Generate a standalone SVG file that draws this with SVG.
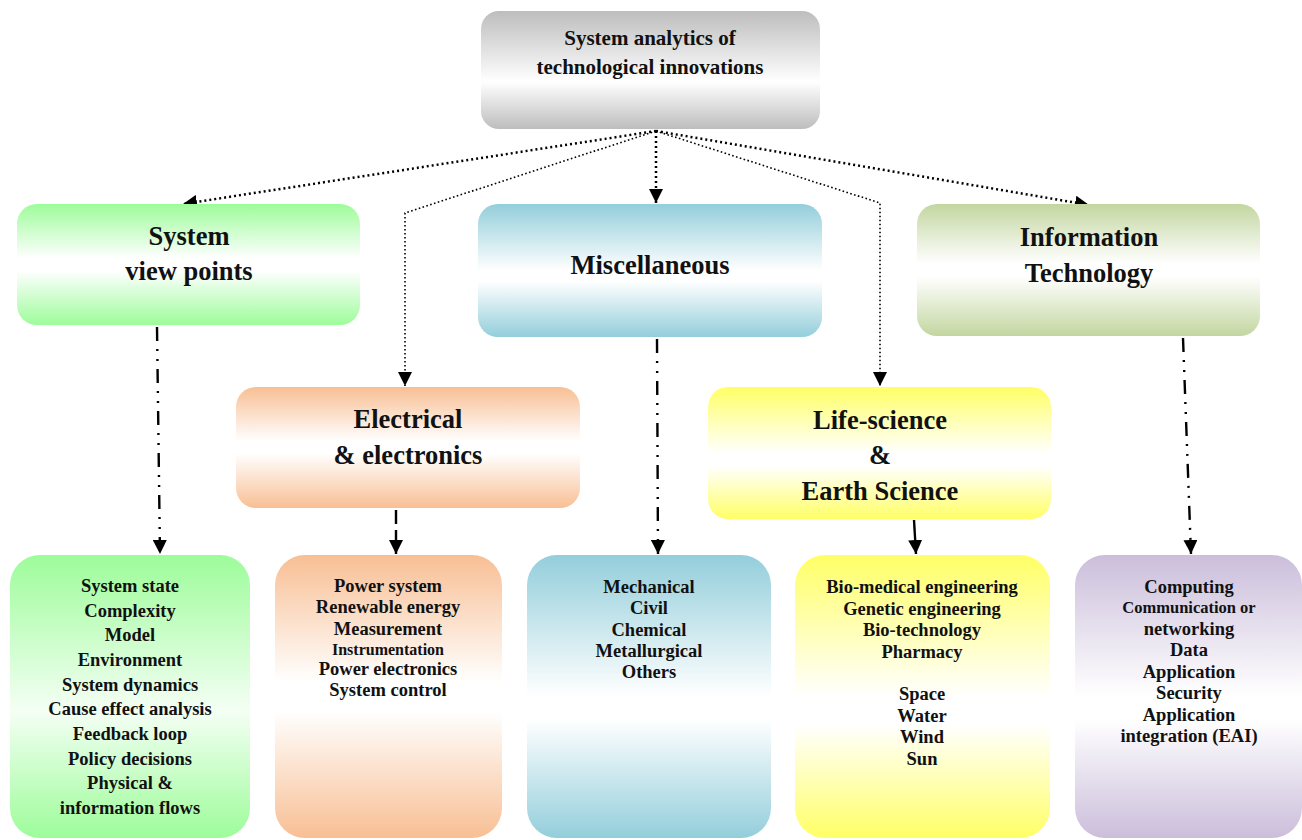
<svg xmlns="http://www.w3.org/2000/svg" width="1302" height="840" viewBox="0 0 1302 840">
<defs>
<linearGradient id="gGray" x1="0" y1="0" x2="0" y2="1"><stop offset="0" stop-color="#bdbdbd"/><stop offset="0.6" stop-color="#ffffff"/><stop offset="1" stop-color="#bdbdbd"/></linearGradient>
<linearGradient id="gGreen" x1="0" y1="0" x2="0" y2="1"><stop offset="0" stop-color="#9dfc9a"/><stop offset="0.45" stop-color="#ffffff"/><stop offset="0.55" stop-color="#ffffff"/><stop offset="1" stop-color="#9dfc9a"/></linearGradient>
<linearGradient id="gBlue" x1="0" y1="0" x2="0" y2="1"><stop offset="0" stop-color="#93cedb"/><stop offset="0.5" stop-color="#ffffff"/><stop offset="0.58" stop-color="#ffffff"/><stop offset="1" stop-color="#93cedb"/></linearGradient>
<linearGradient id="gOlive" x1="0" y1="0" x2="0" y2="1"><stop offset="0" stop-color="#c3d6a0"/><stop offset="0.45" stop-color="#ffffff"/><stop offset="0.55" stop-color="#ffffff"/><stop offset="1" stop-color="#c3d6a0"/></linearGradient>
<linearGradient id="gOrange" x1="0" y1="0" x2="0" y2="1"><stop offset="0" stop-color="#f8bf94"/><stop offset="0.45" stop-color="#ffffff"/><stop offset="0.55" stop-color="#ffffff"/><stop offset="1" stop-color="#f8bf94"/></linearGradient>
<linearGradient id="gYellow" x1="0" y1="0" x2="0" y2="1"><stop offset="0" stop-color="#ffff66"/><stop offset="0.5" stop-color="#ffffff"/><stop offset="0.6" stop-color="#ffffff"/><stop offset="1" stop-color="#ffff66"/></linearGradient>
<linearGradient id="gPurple" x1="0" y1="0" x2="0" y2="1"><stop offset="0" stop-color="#cbbedb"/><stop offset="0.5" stop-color="#ffffff"/><stop offset="0.58" stop-color="#ffffff"/><stop offset="1" stop-color="#cbbedb"/></linearGradient>
<linearGradient id="gGreen2" x1="0" y1="0" x2="0" y2="1"><stop offset="0" stop-color="#9dfc9a"/><stop offset="0.55" stop-color="#f4fff4"/><stop offset="1" stop-color="#9dfc9a"/></linearGradient>
<marker id="arr" viewBox="0 0 10 10" refX="10" refY="5" markerWidth="14" markerHeight="14" markerUnits="userSpaceOnUse" orient="auto"><path d="M0,0 L10,5 L0,10 z" fill="#000"/></marker>
<style>
text{font-family:"Liberation Serif","Times New Roman",serif;font-weight:bold;fill:#111;text-anchor:middle}
.t0{font-size:21px}
.t1{font-size:26.5px}
.t2{font-size:18.5px}
.ts{font-size:16px}
.tm{font-size:16.5px}
.dotA{fill:none;stroke:#000;stroke-width:2.5;stroke-dasharray:2 3}
.dotB{fill:none;stroke:#000;stroke-width:1.6;stroke-dasharray:1.6 2.4}
.dd{fill:none;stroke:#000;stroke-width:2.4;stroke-dasharray:14 8 2 8 2 8}
.dash{fill:none;stroke:#000;stroke-width:2.4;stroke-dasharray:14 6}
.sol{fill:none;stroke:#000;stroke-width:2.4}
</style>
</defs>
<g id="connectors">
<path class="dotA" d="M656,131 L183,204" marker-end="url(#arr)"/>
<path class="dotB" d="M656,131 L405,213 L405,386" marker-end="url(#arr)"/>
<path class="dotA" d="M656,131 L656,203" marker-end="url(#arr)"/>
<path class="dotB" d="M656,131 L880,203 L880,386" marker-end="url(#arr)"/>
<path class="dotA" d="M656,131 L1089,205" marker-end="url(#arr)"/>
<path class="dd" d="M157,327 L160,554" marker-end="url(#arr)"/>
<path class="dash" d="M396,510 L396,554" marker-end="url(#arr)"/>
<path class="dd" d="M657,339 L658,554" marker-end="url(#arr)"/>
<path class="sol" d="M914,520 L916,554" marker-end="url(#arr)"/>
<path class="dd" d="M1183,338 L1191,554" marker-end="url(#arr)"/>
</g>
<g id="root">
<rect x="481" y="11" width="339" height="118" rx="18" fill="url(#gGray)"/>
<text class="t0" x="650" y="45">System analytics of</text>
<text class="t0" x="650" y="74">technological innovations</text>
</g>
<g id="systemViewPoints">
<rect x="17" y="204" width="343" height="121" rx="20" fill="url(#gGreen)"/>
<text class="t1" x="189" y="245">System</text>
<text class="t1" x="189" y="280">view points</text>
</g>
<g id="miscellaneous">
<rect x="478" y="204" width="344" height="133" rx="20" fill="url(#gBlue)"/>
<text class="t1" x="650" y="274">Miscellaneous</text>
</g>
<g id="informationTechnology">
<rect x="917" y="204" width="343" height="132" rx="20" fill="url(#gOlive)"/>
<text class="t1" x="1089" y="246">Information</text>
<text class="t1" x="1089" y="282">Technology</text>
</g>
<g id="electrical">
<rect x="236" y="387" width="344" height="121" rx="20" fill="url(#gOrange)"/>
<text class="t1" x="408" y="428">Electrical</text>
<text class="t1" x="408" y="464">&amp; electronics</text>
</g>
<g id="lifeScience">
<rect x="708" y="387" width="343" height="132" rx="20" fill="url(#gYellow)"/>
<text class="t1" x="880" y="429">Life-science</text>
<text class="t1" x="880" y="464">&amp;</text>
<text class="t1" x="880" y="500">Earth Science</text>
</g>
<g id="systemViewPointsList">
<rect x="10" y="555" width="240" height="283" rx="30" fill="url(#gGreen2)"/>
<text class="t2" x="130" y="592">System state</text>
<text class="t2" x="130" y="617">Complexity</text>
<text class="t2" x="130" y="641">Model</text>
<text class="t2" x="130" y="666">Environment</text>
<text class="t2" x="130" y="691">System dynamics</text>
<text class="t2" x="130" y="715">Cause effect analysis</text>
<text class="t2" x="130" y="740">Feedback loop</text>
<text class="t2" x="130" y="765">Policy decisions</text>
<text class="t2" x="130" y="789">Physical &amp;</text>
<text class="t2" x="130" y="814">information flows</text>
</g>
<g id="electricalList">
<rect x="275" y="555" width="227" height="283" rx="30" fill="url(#gOrange)"/>
<text class="t2" x="388" y="592">Power system</text>
<text class="t2" x="388" y="613">Renewable energy</text>
<text class="t2" x="388" y="635">Measurement</text>
<text class="ts" x="388" y="655">Instrumentation</text>
<text class="t2" x="388" y="675">Power electronics</text>
<text class="t2" x="388" y="696">System control</text>
</g>
<g id="miscellaneousList">
<rect x="527" y="555" width="244" height="283" rx="30" fill="url(#gBlue)"/>
<text class="t2" x="649" y="593">Mechanical</text>
<text class="t2" x="649" y="614">Civil</text>
<text class="t2" x="649" y="636">Chemical</text>
<text class="t2" x="649" y="657">Metallurgical</text>
<text class="t2" x="649" y="678">Others</text>
</g>
<g id="lifeScienceList">
<rect x="795" y="555" width="255" height="283" rx="30" fill="url(#gYellow)"/>
<text class="t2" x="922" y="593">Bio-medical engineering</text>
<text class="t2" x="922" y="615">Genetic engineering</text>
<text class="t2" x="922" y="636">Bio-technology</text>
<text class="t2" x="922" y="658">Pharmacy</text>
<text class="t2" x="922" y="700">Space</text>
<text class="t2" x="922" y="722">Water</text>
<text class="t2" x="922" y="743">Wind</text>
<text class="t2" x="922" y="765">Sun</text>
</g>
<g id="itList">
<rect x="1075" y="555" width="227" height="283" rx="30" fill="url(#gPurple)"/>
<text class="t2" x="1189" y="593">Computing</text>
<text class="tm" x="1189" y="613">Communication or</text>
<text class="t2" x="1189" y="635">networking</text>
<text class="t2" x="1189" y="656">Data</text>
<text class="t2" x="1189" y="678">Application</text>
<text class="t2" x="1189" y="699">Security</text>
<text class="t2" x="1189" y="721">Application</text>
<text class="t2" x="1189" y="742">integration (EAI)</text>
</g>
</svg>
